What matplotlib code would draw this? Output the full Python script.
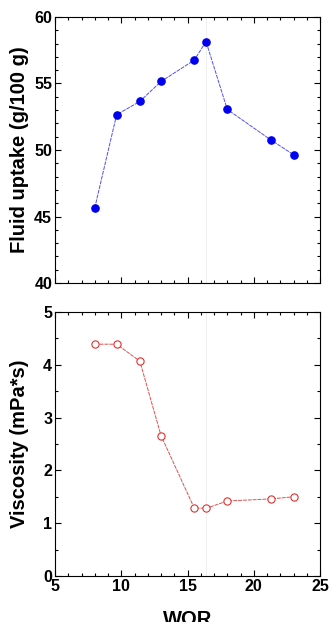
import matplotlib.pyplot as plt
from matplotlib.ticker import MultipleLocator

# WOR values (shared by both panels)
wor = [8.0, 9.65, 11.4, 13.0, 15.5, 16.4, 18.0, 21.3, 23.0]
# Fluid uptake (g/100 g)
uptake = [45.65, 52.65, 53.65, 55.15, 56.75, 58.15, 53.05, 50.75, 49.65]
# Viscosity (mPa*s)
viscosity = [4.39, 4.39, 4.07, 2.66, 1.29, 1.28, 1.42, 1.46, 1.50]

plt.rcParams['font.family'] = ['Liberation Sans', 'DejaVu Sans']
plt.rcParams['font.weight'] = 'bold'

fig = plt.figure(figsize=(3.3, 6.22), dpi=100)
ax1 = fig.add_axes([0.1667, 0.545, 0.803, 0.4277])
ax2 = fig.add_axes([0.1667, 0.074, 0.803, 0.4244])

# top panel
ax1.plot(wor, uptake, color='#5050ee', lw=0.7, ls=(0, (4, 1)),
         marker='o', ms=5.2, mfc='#0000ee', mec='#0000ee')
ax1.set_xlim(5, 25)
ax1.set_ylim(40, 60)
ax1.yaxis.set_major_locator(MultipleLocator(5))
ax1.yaxis.set_minor_locator(MultipleLocator(1))
ax1.set_ylabel('Fluid uptake (g/100 g)', fontsize=14.5, fontweight='bold', labelpad=4)
ax1.tick_params(labelbottom=False)

# bottom panel
ax2.plot(wor, viscosity, color='#e05050', lw=0.7, ls=(0, (4, 1)),
         marker='o', ms=5.2, mfc='white', mec='#e03030', mew=0.8)
ax2.set_xlim(5, 25)
ax2.set_ylim(0, 5)
ax2.yaxis.set_major_locator(MultipleLocator(1))
ax2.yaxis.set_minor_locator(MultipleLocator(0.5))
ax2.set_ylabel('Viscosity (mPa*s)', fontsize=14.5, fontweight='bold', labelpad=10)
ax2.set_xlabel('WOR', fontsize=14.5, fontweight='bold', labelpad=12)

for ax in (ax1, ax2):
    ax.axvline(16.4, color='#ececec', lw=0.6, zorder=0)
    ax.xaxis.set_major_locator(MultipleLocator(5))
    ax.xaxis.set_minor_locator(MultipleLocator(1))
    ax.tick_params(which='both', direction='in', top=True, right=True,
                   labelsize=11.5, width=0.8)
    ax.tick_params(which='major', length=4, pad=2)
    ax.tick_params(which='minor', length=2.5)
    for s in ax.spines.values():
        s.set_linewidth(0.8)
    for lab in ax.get_xticklabels() + ax.get_yticklabels():
        lab.set_fontweight('bold')

fig.savefig('out.png', dpi=100)
